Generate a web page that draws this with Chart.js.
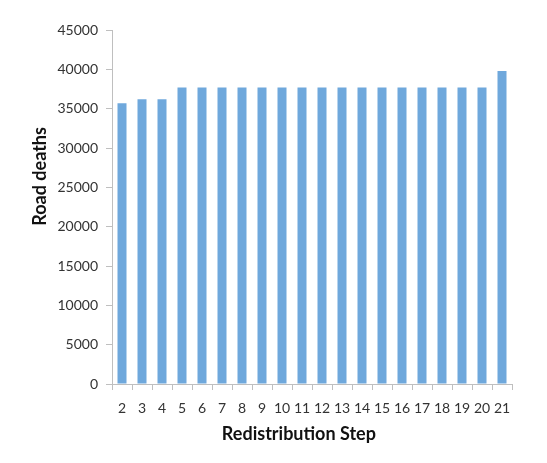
<!DOCTYPE html>
<html>
<head>
<meta charset="utf-8">
<script src="https://cdn.jsdelivr.net/npm/chart.js@4/dist/chart.umd.min.js"></script>
<style>
  html, body { margin: 0; padding: 0; background: #fff; }
  #wrap { width: 547px; height: 463px; position: relative; }
</style>
</head>
<body>
<div id="wrap"><canvas id="myChart"></canvas></div>
<script>
const steps = ["2", "3", "4", "5", "6", "7", "8", "9", "10", "11", "12", "13", "14", "15", "16", "17", "18", "19", "20", "21"];
const roadDeaths = [35700, 36200, 36200, 37700, 37700, 37700, 37700, 37700, 37700, 37700,
  37700, 37700, 37700, 37700, 37700, 37700, 37700, 37700, 37700, 39800];
const yMax = 45000;
const yStep = 5000;

const axisColor = "#BFBFBF";
const textColor = "#333333";

// Excel puts the axis titles a bit off centre; pad with spaces to nudge them
const xTitle = "Redistribution Step" + " ".repeat(6);
const yTitle = " ".repeat(14) + "Road deaths";

const chartData = {
  labels: steps,
  datasets: [
    {
      label: "Road deaths",
      backgroundColor: "#6FA8DC",
      borderWidth: 0,
      barPercentage: 0.45,
      categoryPercentage: 1,
      data: roadDeaths,
    },
  ],
};

const config = {
  type: "bar",
  data: chartData,
  options: {
    responsive: true,
    maintainAspectRatio: false,
    animation: false,
    layout: { padding: { left: 22, top: 30, right: 35, bottom: 0 } },
    plugins: {
      legend: { display: false },
      tooltip: { enabled: false },
    },
    scales: {
      x: {
        grid: { drawOnChartArea: false, color: axisColor, tickLength: 6, offset: true },
        border: { color: axisColor },
        ticks: { color: textColor, padding: 10, maxRotation: 0, autoSkip: false, font: { family: "Lato", size: 14 } },
        title: {
          display: true,
          text: xTitle,
          color: "#111",
          padding: { top: 0, bottom: 18 },
          font: { family: "Lato", size: 18, weight: "bold" },
        },
        afterFit: (scale) => { scale.height = 79; },
      },
      y: {
        min: 0,
        max: yMax,
        grid: { drawOnChartArea: false, color: axisColor, tickLength: 6 },
        border: { color: axisColor },
        ticks: {
          stepSize: yStep,
          color: textColor,
          padding: 8,
          font: { family: "Lato", size: 14 },
          callback: (value) => String(value),
        },
        title: {
          display: true,
          text: yTitle,
          color: "#111",
          padding: { top: 7, bottom: 0 },
          font: { family: "Lato", size: 18, weight: "bold" },
        },
        afterFit: (scale) => { scale.width = 90; },
      },
    },
  },
};

const myChart = new Chart(document.getElementById("myChart"), config);
</script>
</body>
</html>
